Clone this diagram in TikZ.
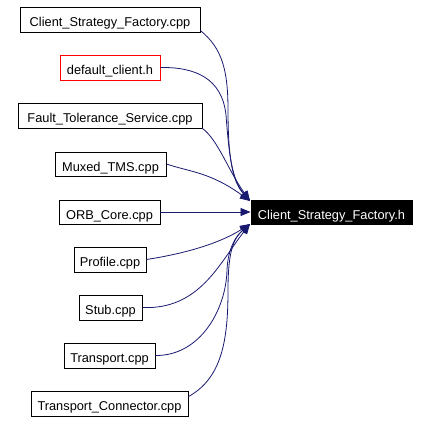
\documentclass[tikz,border=0pt]{standalone}
\usepackage{fontspec}
\setmainfont{Liberation Sans}
\usetikzlibrary{arrows.meta}
\definecolor{edgeblue}{HTML}{191970}
\begin{document}
\begin{tikzpicture}[x=1pt,y=-1pt,
  filebox/.style={draw=black,line width=0.9pt,fill=white,inner sep=0pt,font=\fontsize{12.8}{15}\selectfont,text height=14pt,text depth=0pt,minimum height=25pt},
  redbox/.style={filebox,draw=red},
  targetbox/.style={filebox,fill=black,text=white},
  dep/.style={draw=edgeblue,line width=0.8pt,-{Triangle[length=10pt,width=8pt]}}]
\useasboundingbox (0,0) rectangle (430,422);
\node[filebox,minimum width=180pt] (csf) at (110,19.5) {Client\_Strategy\_Factory.cpp};
\node[redbox,minimum width=100pt] (dc) at (110,67.5) {default\_client.h};
\node[filebox,minimum width=184pt] (fts) at (110,115.5) {Fault\_Tolerance\_Service.cpp};
\node[filebox,minimum width=111pt,minimum height=24pt] (mux) at (110.5,164) {Muxed\_TMS.cpp};
\node[filebox,minimum width=101pt,minimum height=24pt] (orb) at (109.5,212) {ORB\_Core.cpp};
\node[targetbox,minimum width=161pt,minimum height=24pt] (t) at (331.5,212) {Client\_Strategy\_Factory.h};
\node[filebox,minimum width=72pt] (prof) at (110,259.5) {Profile.cpp};
\node[filebox,minimum width=63pt] (stub) at (110.5,307.5) {Stub.cpp};
\node[filebox,minimum width=91pt] (tr) at (109.5,355.5) {Transport.cpp};
\node[filebox,minimum width=157pt] (tc) at (109.5,403.5) {Transport\_Connector.cpp};
\coordinate (tup) at (250,201);
\coordinate (tlow) at (250,224);
\draw[dep] (csf.-7) .. controls (222,48) and (228,70) .. (228,110) .. controls (228,160) and (233,182) .. (tup);
\draw[dep] (dc.east) .. controls (195,67) and (222,78) .. (226,115) .. controls (229,155) and (232,180) .. (tup);
\draw[dep] (fts.south east) .. controls (218,140) and (228,170) .. (tup);
\draw[dep] (mux.east) .. controls (190,172) and (210,172) .. (tup);
\draw[dep] (orb.east) -- (t.west);
\draw[dep] (prof.east) .. controls (195,252) and (225,240) .. (tlow);
\draw[dep] (stub.east) .. controls (200,310) and (220,262) .. (tlow);
\draw[dep] (tr.east) .. controls (200,356) and (226,310) .. (227,270) .. controls (228,248) and (236,236) .. (tlow);
\draw[dep] (tc.5) .. controls (222,378) and (228,340) .. (228,290) .. controls (228,250) and (234,238) .. (tlow);
\end{tikzpicture}
\end{document}
